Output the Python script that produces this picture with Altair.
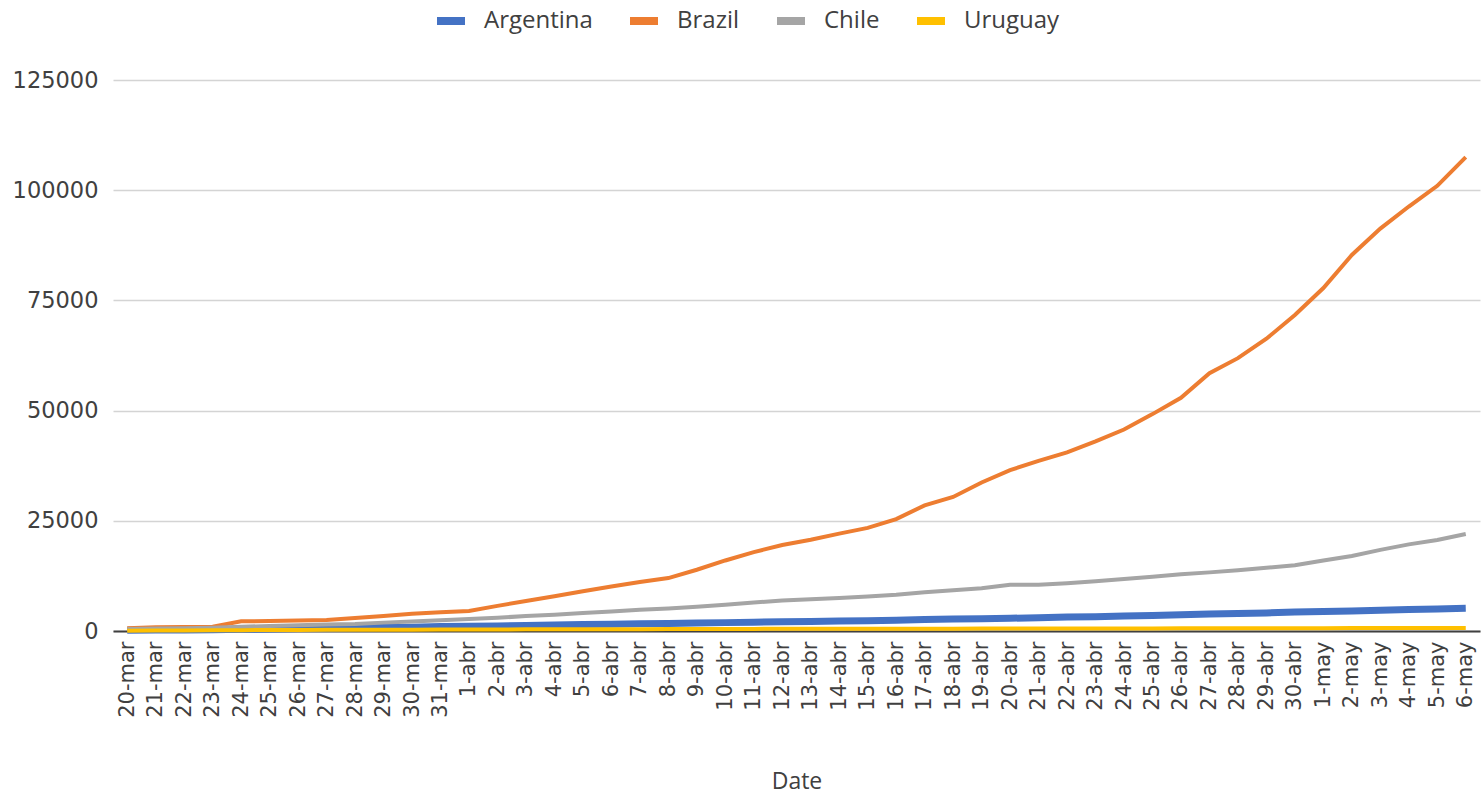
import altair as alt
import pandas as pd

dates = ["20-mar", "21-mar", "22-mar", "23-mar", "24-mar", "25-mar", "26-mar", "27-mar",
         "28-mar", "29-mar", "30-mar", "31-mar", "1-abr", "2-abr", "3-abr", "4-abr",
         "5-abr", "6-abr", "7-abr", "8-abr", "9-abr", "10-abr", "11-abr", "12-abr",
         "13-abr", "14-abr", "15-abr", "16-abr", "17-abr", "18-abr", "19-abr", "20-abr",
         "21-abr", "22-abr", "23-abr", "24-abr", "25-abr", "26-abr", "27-abr", "28-abr",
         "29-abr", "30-abr", "1-may", "2-may", "3-may", "4-may", "5-may", "6-may"]

countries = ["Argentina", "Brazil", "Chile", "Uruguay"]

argentina = [150, 200, 250, 300, 380, 450, 550, 650, 750, 800, 850, 1000,
             1050, 1150, 1250, 1350, 1450, 1550, 1650, 1700, 1800, 1900, 2000, 2100,
             2150, 2250, 2350, 2450, 2600, 2700, 2800, 2900, 3000, 3150, 3250, 3400,
             3500, 3700, 3850, 3950, 4100, 4300, 4450, 4550, 4700, 4850, 5000, 5150]

brazil = [650, 850, 900, 950, 2200, 2250, 2400, 2500, 2950, 3400, 3900, 4250,
          4550, 5700, 6800, 7900, 9000, 10100, 11100, 12000, 13900, 16000, 17900, 19500,
          20700, 22100, 23400, 25400, 28500, 30400, 33700, 36500, 38600, 40500, 43000, 45700,
          49200, 52900, 58500, 61900, 66300, 71700, 77800, 85300, 91300, 96300, 101000, 107500]

chile = [450, 550, 650, 750, 950, 1150, 1300, 1450, 1600, 1900, 2150, 2450,
         2700, 3000, 3400, 3700, 4100, 4450, 4800, 5100, 5500, 5950, 6450, 6900,
         7200, 7500, 7850, 8250, 8800, 9250, 9700, 10500, 10500, 10850, 11300, 11800,
         12300, 12850, 13300, 13800, 14350, 14900, 16000, 17000, 18400, 19650, 20650, 22000]

uruguay = [80, 95, 135, 160, 190, 220, 240, 270, 290, 300, 310, 320,
           340, 350, 370, 390, 400, 410, 420, 440, 460, 470, 480, 490,
           500, 500, 510, 520, 520, 530, 540, 540, 550, 560, 570, 580,
           590, 600, 610, 620, 630, 640, 650, 660, 660, 670, 670, 680]

colors = ["#4472C4", "#ED7D31", "#A5A5A5", "#FFC000"]
y_ticks = [0, 25000, 50000, 75000, 100000, 125000]

series = dict(zip(countries, [argentina, brazil, chile, uruguay]))
rows = []
for c in countries:
    for d, v in zip(dates, series[c]):
        rows.append({"Date": d, "country": c, "value": v})
df = pd.DataFrame(rows)

chart = alt.Chart(df).mark_line().encode(
    x=alt.X("Date:O", sort=dates,
            scale=alt.Scale(type="point", padding=0.5),
            axis=alt.Axis(labelAngle=270, ticks=False, grid=False,
                          domain=True, domainColor="#404040", domainWidth=2,
                          labelPadding=10, labelFont="DejaVu Sans", labelFontSize=21,
                          labelColor="#404040", title="Date", titleFont="Open Sans",
                          titleFontSize=23, titleFontWeight="normal", titleColor="#404040",
                          titlePadding=53, zindex=0)),
    y=alt.Y("value:Q",
            scale=alt.Scale(domain=[0, 125000], nice=False),
            axis=alt.Axis(values=y_ticks, format="d", ticks=False, domain=False,
                          grid=True, gridColor="#D4D4D4", gridWidth=1.5,
                          labelPadding=15, labelFont="DejaVu Sans", labelFontSize=22.5,
                          labelColor="#404040", title=None)),
    color=alt.Color("country:N",
                    scale=alt.Scale(domain=countries, range=colors),
                    legend=alt.Legend(title=None, orient="none", direction="horizontal",
                                      legendX=320, legendY=-77,
                                      symbolType="M-1,0H1",
                                      symbolSize=784, symbolStrokeWidth=8,
                                      labelOffset=15, columnPadding=21,
                                      labelFont="Open Sans", labelFontSize=24,
                                      labelColor="#404040")),
    strokeWidth=alt.condition(alt.datum.country == "Argentina", alt.value(7), alt.value(4)),
).properties(
    width=1367,
    height=551,
    autosize=alt.AutoSizeParams(type="none"),
    padding={"left": 113, "top": 80, "right": 3, "bottom": 166},
).configure_view(stroke=None)

chart.save("out.html", embed_options={"renderer": "svg", "actions": False})
